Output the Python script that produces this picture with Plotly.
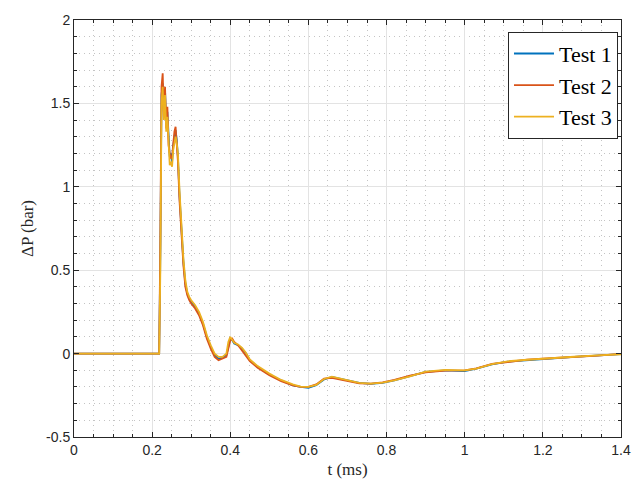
import plotly.graph_objects as go

t = [0, 0.218, 0.221, 0.224, 0.227, 0.23, 0.233, 0.236, 0.239, 0.242, 0.245, 0.248,
     0.251, 0.254, 0.257, 0.26, 0.263, 0.266, 0.27, 0.275, 0.28, 0.285, 0.29, 0.295,
     0.30, 0.31, 0.32, 0.33, 0.34, 0.35, 0.36, 0.37, 0.38, 0.39, 0.395, 0.40, 0.405,
     0.41, 0.42, 0.43, 0.44, 0.45, 0.47, 0.50, 0.53, 0.56, 0.58, 0.60, 0.62, 0.64,
     0.66, 0.68, 0.70, 0.73, 0.76, 0.79, 0.82, 0.86, 0.90, 0.95, 1.00, 1.03, 1.07,
     1.11, 1.16, 1.22, 1.28, 1.34, 1.40]

test1 = [0, 0, 0.6, 1.55, 1.62, 1.45, 1.58, 1.38, 1.45, 1.28, 1.18, 1.2,
         1.15, 1.25, 1.3, 1.34, 1.28, 1.18, 0.95, 0.72, 0.55, 0.42, 0.36, 0.33,
         0.31, 0.28, 0.24, 0.18, 0.10, 0.04, -0.01, -0.03, -0.025, -0.01, 0.05, 0.09, 0.08,
         0.06, 0.05, 0.03, 0.0, -0.04, -0.08, -0.125, -0.16, -0.19, -0.2, -0.205, -0.19, -0.155,
         -0.14, -0.15, -0.16, -0.175, -0.182, -0.175, -0.16, -0.135, -0.11, -0.1, -0.105, -0.09, -0.065,
         -0.048, -0.038, -0.03, -0.02, -0.01, -0.003]

test2 = [0, 0, 0.7, 1.6, 1.68, 1.42, 1.6, 1.35, 1.48, 1.25, 1.2, 1.17,
         1.18, 1.28, 1.33, 1.36, 1.25, 1.15, 0.92, 0.7, 0.53, 0.4, 0.35, 0.32,
         0.30, 0.27, 0.23, 0.17, 0.09, 0.03, -0.02, -0.04, -0.03, -0.02, 0.03, 0.08, 0.09,
         0.07, 0.05, 0.02, -0.01, -0.045, -0.085, -0.13, -0.165, -0.19, -0.2, -0.2, -0.185, -0.15,
         -0.145, -0.155, -0.165, -0.178, -0.18, -0.172, -0.158, -0.132, -0.112, -0.102, -0.1, -0.088, -0.062,
         -0.05, -0.036, -0.028, -0.022, -0.012, -0.002]

test3 = [0, 0, 0.5, 1.5, 1.6, 1.4, 1.55, 1.33, 1.42, 1.22, 1.13, 1.15,
         1.12, 1.22, 1.27, 1.3, 1.26, 1.2, 0.98, 0.75, 0.57, 0.44, 0.37, 0.34,
         0.32, 0.29, 0.25, 0.19, 0.11, 0.05, 0.0, -0.02, -0.02, 0.0, 0.07, 0.1, 0.085,
         0.065, 0.055, 0.035, 0.005, -0.035, -0.075, -0.12, -0.158, -0.185, -0.198, -0.2, -0.188, -0.152,
         -0.138, -0.148, -0.162, -0.176, -0.18, -0.174, -0.16, -0.137, -0.108, -0.098, -0.1, -0.09, -0.063,
         -0.046, -0.037, -0.03, -0.019, -0.011, -0.004]

names = ["Test 1", "Test 2", "Test 3"]
colors = ["#0072BD", "#D95319", "#EDB120"]

y_ticks = [-0.5, 0, 0.5, 1, 1.5, 2]
y_labels = ["-0.5", "0", "0.5", "1", "1.5", "2"]
x_ticks = [0, 0.2, 0.4, 0.6, 0.8, 1.0, 1.2, 1.4]
x_labels = ["0", "0.2", "0.4", "0.6", "0.8", "1", "1.2", "1.4"]

fig = go.Figure()
for name, ys, c in zip(names, [test1, test2, test3], colors):
    fig.add_trace(go.Scatter(x=t, y=ys, mode="lines", name=name,
                             line=dict(color=c, width=1.8)))

axis_common = dict(
    showline=True, linecolor="#262626", linewidth=1, mirror="ticks",
    ticks="inside", ticklen=5, tickcolor="#262626",
    showgrid=True, gridcolor="#e3e3e3", gridwidth=1, zeroline=False,
    tickfont=dict(family="Liberation Sans", size=14, color="#262626"),
)

minor_common = dict(showgrid=True, griddash="1px,4px", gridcolor="#c4c4c4",
                    ticks="inside", ticklen=3, tickcolor="#262626")

fig.update_xaxes(**axis_common, range=[0, 1.4], tickvals=x_ticks, ticktext=x_labels,
                 minor=dict(dtick=0.05, tick0=0, **minor_common),
                 title=dict(text="t (ms)", font=dict(family="Liberation Serif", size=17, color="#262626"),
                            standoff=6))
fig.update_yaxes(**axis_common, range=[-0.5, 2], tickvals=y_ticks, ticktext=y_labels,
                 minor=dict(dtick=0.1, tick0=0, **minor_common),
                 title=dict(text="ΔP (bar)", font=dict(family="Liberation Serif", size=17, color="#262626"),
                            standoff=8))

fig.update_layout(
    width=644, height=491,
    margin=dict(l=74, r=23, t=14, b=54),
    plot_bgcolor="white", paper_bgcolor="white",
    legend=dict(x=0.9945, y=0.972, xanchor="right", yanchor="top",
                bgcolor="white", bordercolor="#262626", borderwidth=1,
                font=dict(family="Liberation Serif", size=22, color="black"),
                tracegroupgap=0, itemwidth=40),
    showlegend=True,
)

fig.write_html("out.html")
